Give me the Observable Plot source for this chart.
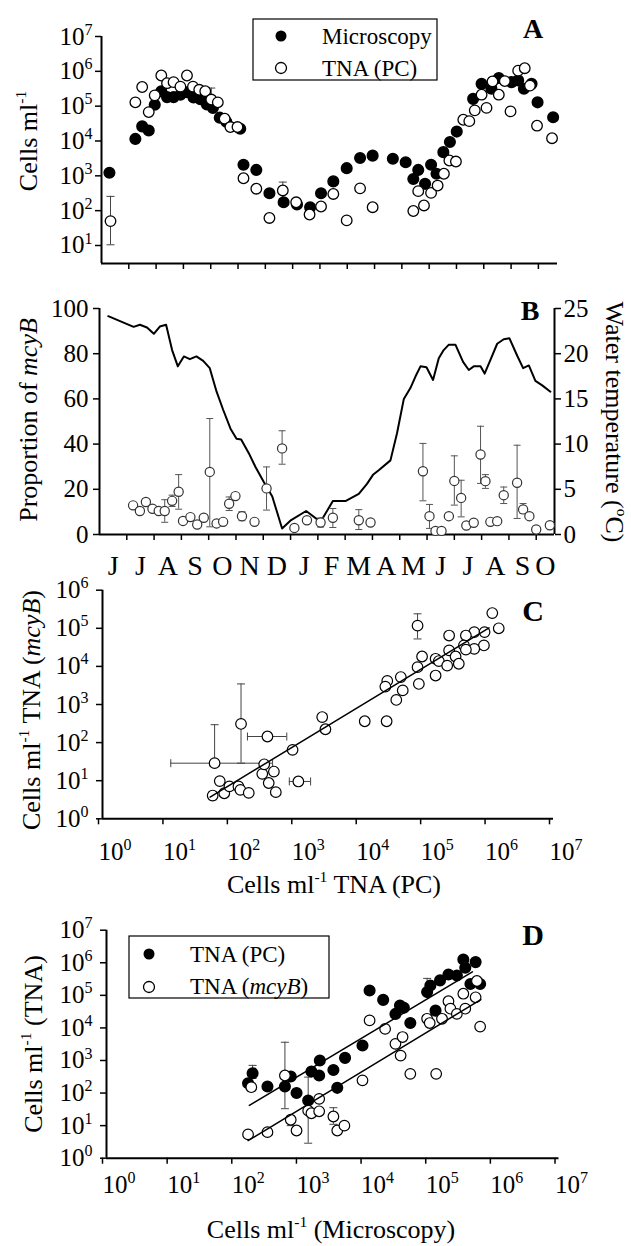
<!DOCTYPE html>
<html><head><meta charset="utf-8">
<script src="https://cdn.jsdelivr.net/npm/d3@7"></script>
<script src="https://cdn.jsdelivr.net/npm/@observablehq/plot@0.6"></script>
<style>
body{margin:0;background:#fff}
#wrap{position:relative;width:631px;height:1246px;background:#fff;overflow:hidden}
.p{position:absolute;left:0}
#wrap svg, #wrap svg text, #wrap svg tspan { font-family: "Liberation Serif", "DejaVu Serif", "Times New Roman", serif !important; }
</style>
</head><body><div id="wrap"></div>
<script>
// ---------- DATA ----------
const monthLabels = ["J","J","A","S","O","N","D","J","F","M","A","M","J","J","A","S","O"];
const monthTicks = [1,2,3,4,5,6,7,8,9,10,11,12,13,14,15,16];

// Panel A (x in months from 1 June, values as log10 cells/ml)
const aMicroMonth = [0.29,1.24,1.49,1.73,1.95,2.19,2.40,2.64,2.89,3.13,3.37,3.62,3.86,4.08,4.33,4.57,5.08,5.20,5.67,6.15,6.67,7.16,7.64,8.04,8.49,8.98,9.47,9.93,10.67,11.14,11.42,11.60,11.85,12.07,12.27,12.52,12.76,13.01,13.61,13.92,14.28,14.55,15.02,15.26,15.47,15.75,15.97,16.54];
const aMicroLog = [3.09,4.06,4.42,4.30,5.04,5.43,5.26,5.26,5.33,5.40,5.25,5.20,5.05,4.95,4.67,4.55,4.35,3.32,3.17,2.50,2.24,2.18,2.10,2.50,2.84,3.22,3.51,3.58,3.49,3.39,2.91,3.17,2.77,3.32,3.06,3.68,3.97,4.27,5.21,5.64,5.50,5.81,5.69,5.74,5.50,5.64,5.11,4.68];
const aPcMonth = [0.33,1.24,1.49,1.73,1.95,2.19,2.40,2.64,2.89,3.13,3.35,3.58,3.80,4.02,4.26,4.51,4.72,4.98,5.20,5.67,6.15,6.64,7.13,7.62,8.04,8.49,8.98,9.47,9.93,11.42,11.60,11.81,12.07,12.31,12.54,12.74,12.98,13.25,13.47,13.67,13.92,14.10,14.32,14.55,14.77,14.98,15.26,15.50,15.69,15.95,16.50];
const aPcLog = [1.70,5.11,5.55,4.83,5.31,5.88,5.66,5.69,5.56,5.88,5.56,5.47,5.43,5.19,5.11,4.64,4.40,4.40,2.93,2.63,1.79,2.58,2.24,1.89,2.12,2.48,1.72,2.64,2.10,1.99,2.56,2.15,2.51,2.72,3.06,3.44,3.41,4.61,4.57,4.88,5.33,4.95,5.71,5.33,5.72,4.85,6.02,6.09,5.59,4.44,4.08];
const aErrMonth = [0.33,4.02,6.64];
const aErrLoLog = [1.02,5.00,2.34];
const aErrHiLog = [2.41,5.52,2.82];

// Panel B
const bTempMonth = [0.32,1.25,1.48,1.74,1.99,2.21,2.44,2.66,2.87,3.09,3.31,3.55,3.80,4.04,4.29,4.53,4.80,5.02,5.19,5.47,5.71,6.02,6.33,6.69,7.02,7.57,8.10,8.55,8.83,9.01,9.50,9.80,10.02,10.23,10.66,10.90,11.15,11.39,11.58,11.76,11.98,12.22,12.43,12.61,12.80,13.04,13.32,13.53,13.71,13.96,14.11,14.35,14.57,14.81,15.02,15.30,15.52,15.73,15.97,16.22,16.52];
const bTemp = [24.15,22.97,23.2,22.9,22.2,23.0,23.2,20.4,18.6,19.7,19.4,19.7,19.2,18.4,15.8,13.8,11.7,10.6,10.5,9.0,7.5,5.8,4.2,0.66,1.6,2.6,1.4,3.7,3.7,3.7,4.5,5.6,6.6,7.1,8.2,11.2,15.0,16.2,17.5,18.6,18.5,17.1,19.5,20.4,21.0,21.0,19.1,18.2,18.6,18.6,17.8,19.5,21.1,21.6,21.7,19.8,18.4,18.7,17.0,16.5,15.8];
const bPropMonth = [1.23,1.48,1.70,1.94,2.17,2.39,2.66,2.90,3.06,3.33,3.58,3.82,4.04,4.29,4.53,4.75,4.98,5.22,5.68,6.12,6.69,7.14,7.60,8.10,8.55,9.50,9.93,11.85,12.09,12.31,12.53,12.80,13.00,13.25,13.44,13.71,13.96,14.14,14.32,14.57,14.81,15.30,15.52,15.75,16.00,16.50];
const bProp = [12.9,10.4,14.4,11.4,10.4,10.4,14.9,18.9,6.0,7.7,4.4,7.4,27.7,4.9,5.6,13.6,17.0,8.1,5.6,20.4,38.1,2.9,6.3,5.3,7.4,6.3,5.3,28.0,8.1,1.6,1.6,8.1,23.7,16.2,4.0,5.2,35.4,23.6,5.6,5.9,17.4,22.9,11.1,8.1,2.2,4.1];
const bErrMonth = [2.39,2.66,2.90,4.04,4.75,5.22,6.12,6.69,8.10,8.55,9.50,11.85,12.09,13.00,13.25,13.96,14.14,14.81,15.30,15.52];
const bErrLo = [5.4,12.4,11.2,3.4,10.6,6.1,10.8,31.1,3.3,3.1,2.2,14.9,2.7,13.0,7.8,22.6,20.4,13.7,7.1,9.3];
const bErrHi = [15.4,17.4,26.5,51.3,16.6,10.1,29.9,45.9,7.3,11.5,11.0,40.3,13.3,34.8,24.0,47.9,26.5,21.0,39.5,13.7];

// Panel C (log10 values)
const cPcLog = [1.71,1.74,1.82,1.89,1.97,2.11,2.14,2.27,2.15,2.48,2.51,2.58,2.66,2.69,2.56,2.95,3.04,3.41,3.46,4.07,4.41,4.42,4.39,4.56,4.63,4.66,4.91,4.89,5.17,4.89,6.05,6.15,5.38,5.77,5.93,5.64,5.92,5.61,5.77,5.64,5.38,5.48,5.53,4.96,5.17,5.22,5.35];
const cMcyLog = [0.61,1.46,0.99,0.67,0.85,0.85,0.76,0.68,2.49,1.18,1.43,0.94,1.24,0.70,2.16,1.81,0.98,2.67,2.35,2.56,2.56,3.62,3.47,3.12,3.72,3.37,3.54,3.98,3.76,5.07,5.40,5.00,4.81,4.90,4.90,4.81,4.55,4.55,4.46,4.44,4.42,4.26,4.07,4.26,4.20,4.14,4.02];
const cVErrX = [1.71,1.74,1.82,2.15,2.56,2.95,3.41,4.07,4.63,4.89,5.38];
const cVErrY = [0.61,1.46,0.99,2.49,2.16,1.81,2.67,2.56,3.72,5.07,4.81];
const cVErrLo = [0.50,1.46,0.90,1.46,2.08,1.72,2.60,2.48,3.65,4.72,4.74];
const cVErrHi = [0.72,2.47,1.08,3.54,2.24,1.89,2.74,2.64,3.79,5.38,4.88];
const cHErrY = [1.46,2.16,0.98,2.67];
const cHErrLo = [1.06,2.25,2.90,3.35];
const cHErrHi = [2.64,2.86,3.23,3.48];
const cLineX = [1.67,6.0];
const cLineY = [0.57,5.01];

// Panel D (log10 values)
const dPcX = [2.26,2.19,2.49,2.76,2.85,2.94,3.12,3.17,3.30,3.29,3.51,3.57,3.69,3.96,4.07,4.28,4.47,4.54,4.70,4.60,4.96,5.01,5.16,5.29,5.42,5.52,5.55,5.71,5.63,5.78,5.09];
const dPcY = [2.61,2.30,2.20,2.20,2.51,2.00,1.77,2.66,3.00,2.54,2.71,2.16,3.08,3.46,5.15,4.86,4.43,4.69,4.15,4.62,5.10,5.30,5.46,5.64,5.61,6.10,5.85,6.02,5.35,5.35,4.53];
const dMcyX = [2.24,2.19,2.49,2.76,2.85,2.94,3.12,3.17,3.29,3.29,3.51,3.57,3.68,3.96,4.07,4.31,4.47,4.58,4.55,4.70,5.10,4.96,5.00,5.19,5.29,5.32,5.42,5.52,5.55,5.71,5.73,5.78];
const dMcyY = [2.18,0.73,0.80,2.54,1.18,0.85,1.46,1.38,1.44,1.82,1.28,0.85,1.00,2.39,4.23,3.97,3.51,3.72,3.15,2.59,2.59,4.28,4.15,4.28,4.82,4.59,4.43,5.05,4.59,4.94,5.44,4.04];
const dErrX = [2.26,4.96,2.24,2.49,2.76,2.85,3.12,3.51,4.70,5.10];
const dErrLo = [2.45,5.10,2.05,0.72,1.52,1.00,0.46,1.04,2.52,2.52];
const dErrHi = [2.85,5.52,2.30,0.88,3.56,1.18,2.49,1.55,2.68,2.68];
const dLinePcX = [2.21,5.66];
const dLinePcY = [1.62,5.72];
const dLineMcyX = [2.19,5.79];
const dLineMcyY = [0.54,4.87];

// ---------- HELPERS ----------
const W = 631;
const FONT = '"Liberation Serif", "DejaVu Serif", serif';
const p10 = v => Math.pow(10, v);
const hbar = {draw(ctx, size){ const r = Math.sqrt(size/Math.PI); ctx.moveTo(-r,0); ctx.lineTo(r,0); }};
const vbar = {draw(ctx, size){ const r = Math.sqrt(size/Math.PI); ctx.moveTo(0,-r); ctx.lineTo(0,r); }};
const decFmt = d => "10^" + Math.round(Math.log10(d));
const baseStyle = {fontFamily: FONT, fontSize: "25px", background: "transparent", color: "black", overflow: "visible"};

function supTicks(svg){
  d3.select(svg).selectAll("text").each(function(){
    const m = /^10\^(\d+)$/.exec(this.textContent);
    if (m){
      const s = d3.select(this); s.text("10");
      s.append("tspan").attr("dy","-0.62em").attr("font-size","0.64em").text(m[1]);
    }
  });
}
function addLabel(svg, o){
  const size = o.size || 26;
  const t = d3.select(svg).append("text")
    .attr("transform", `translate(${o.x},${o.y}) rotate(${o.rotate||0})`)
    .attr("text-anchor", o.anchor || "middle")
    .attr("font-size", size)
    .attr("font-weight", o.weight || "normal").attr("fill", "black")
    .style("white-space", "pre");
  let shift = 0;
  for (const p of o.parts){
    const s = t.append("tspan").text(p.t);
    if (p.sup){ s.attr("font-size", size*0.6).attr("dy", -size*0.42); shift = size*0.42; }
    else if (shift){ s.attr("dy", shift); shift = 0; }
    if (p.it) s.attr("font-style", "italic");
  }
}
function place(svg, top){
  const d = document.createElement("div"); d.className = "p"; d.style.top = top + "px";
  d.appendChild(svg); document.getElementById("wrap").appendChild(d);
}
const cellsMl = [{t:"Cells ml"},{t:"-1",sup:true}];

// ---------- PANEL A ----------
{
  const yMin = p10(0.483);
  const micro = aMicroMonth.map((m,i)=>({m, v:p10(aMicroLog[i])}));
  const pc = aPcMonth.map((m,i)=>({m, v:p10(aPcLog[i])}));
  const err = aErrMonth.map((m,i)=>({m, lo:p10(aErrLoLog[i]), hi:p10(aErrHiLog[i])}));
  const svg = Plot.plot({
    width: W, height: 300, marginTop: 36, marginBottom: 37, marginLeft: 101, marginRight: 74,
    style: baseStyle,
    x: {domain: [0, 16.7]},
    y: {type: "log", domain: [yMin, 1e7]},
    marks: [
      Plot.axisX({ticks: monthTicks, tickSize: 6, tickFormat: () => "", label: null, strokeWidth: 1.5}),
      Plot.axisY({ticks: [1e1,1e2,1e3,1e4,1e5,1e6,1e7], tickSize: 6, tickPadding: 3, tickFormat: decFmt, label: null, strokeWidth: 1.5}),
      Plot.ruleX([0], {strokeWidth: 2}),
      Plot.ruleY([yMin], {strokeWidth: 2}),
      Plot.ruleX(err, {x: "m", y1: "lo", y2: "hi", stroke: "#444", strokeWidth: 1}),
      Plot.dot(err, {x: "m", y: "lo", symbol: hbar, r: 4, stroke: "#444", strokeWidth: 1}),
      Plot.dot(err, {x: "m", y: "hi", symbol: hbar, r: 4, stroke: "#444", strokeWidth: 1}),
      Plot.dot(micro, {x: "m", y: "v", r: 5.3, fill: "black", stroke: "black"}),
      Plot.dot(pc, {x: "m", y: "v", r: 5.3, fill: "white", stroke: "black", strokeWidth: 1.3})
    ]
  });
  supTicks(svg);
  addLabel(svg, {x: 37, y: 141, rotate: -90, parts: cellsMl});
  const g = d3.select(svg).append("g");
  g.append("rect").attr("x",253).attr("y",19).attr("width",184).attr("height",61).attr("fill","white").attr("stroke","black").attr("stroke-width",1.2);
  g.append("circle").attr("cx",281).attr("cy",36).attr("r",5.5).attr("fill","black");
  g.append("circle").attr("cx",281).attr("cy",68).attr("r",5.5).attr("fill","white").attr("stroke","black").attr("stroke-width",1.3);
  addLabel(svg, {x: 322, y: 44, anchor: "start", size: 23, parts: [{t:"Microscopy"}]});
  addLabel(svg, {x: 322, y: 76, anchor: "start", size: 23, parts: [{t:"TNA (PC)"}]});
  addLabel(svg, {x: 533, y: 38, size: 28, weight: "bold", parts: [{t:"A"}]});
  place(svg, 0);
}

// ---------- PANEL B ----------
{
  const xMax = 16.67;
  const temp = bTempMonth.map((m,i)=>({m, y: bTemp[i]*4}));
  const prop = bPropMonth.map((m,i)=>({m, p: bProp[i]}));
  const err = bErrMonth.map((m,i)=>({m, lo: bErrLo[i], hi: bErrHi[i]}));
  const labelPos = monthLabels.map((_,i)=> i < 16 ? i + 0.5 : (16 + xMax)/2);
  const svg = Plot.plot({
    width: W, height: 300, marginTop: 18, marginBottom: 56, marginLeft: 99, marginRight: 77,
    style: baseStyle,
    x: {domain: [0, xMax]},
    y: {domain: [0, 100]},
    marks: [
      Plot.axisX({ticks: monthTicks, tickSize: 6, tickFormat: () => "", label: null, strokeWidth: 1.5}),
      Plot.axisX({ticks: labelPos, tickSize: 0, tickPadding: 21, fontSize: 28, tickFormat: (d,i) => monthLabels[i], label: null}),
      Plot.axisY({ticks: [0,20,40,60,80,100], tickSize: 6, tickPadding: 5, label: null, strokeWidth: 1.5}),
      Plot.axisY({anchor: "right", ticks: [0,20,40,60,80,100], tickFormat: d => String(d/4), tickSize: 6, tickPadding: 3, label: null, strokeWidth: 1.5}),
      Plot.ruleX([0, xMax], {strokeWidth: 2}),
      Plot.ruleY([0], {strokeWidth: 2}),
      Plot.line(temp, {x: "m", y: "y", stroke: "black", strokeWidth: 2}),
      Plot.ruleX(err, {x: "m", y1: "lo", y2: "hi", stroke: "#555", strokeWidth: 1}),
      Plot.dot(err, {x: "m", y: "lo", symbol: hbar, r: 3.5, stroke: "#555", strokeWidth: 1}),
      Plot.dot(err, {x: "m", y: "hi", symbol: hbar, r: 3.5, stroke: "#555", strokeWidth: 1}),
      Plot.dot(prop, {x: "m", y: "p", r: 4.6, fill: "white", stroke: "#333", strokeWidth: 1.2})
    ]
  });
  addLabel(svg, {x: 37, y: 130, rotate: -90, parts: [{t:"Proportion of "},{t:"mcyB", it:true}]});
  addLabel(svg, {x: 606, y: 132, rotate: 90, parts: [{t:"Water temperature ("},{t:"o",sup:true},{t:"C)"}]});
  addLabel(svg, {x: 530, y: 30, size: 28, weight: "bold", parts: [{t:"B"}]});
  place(svg, 290);
}

// ---------- PANEL C ----------
{
  const pts = cPcLog.map((x,i)=>({x: p10(x), y: p10(cMcyLog[i])}));
  const ve = cVErrX.map((x,i)=>({x: p10(x), lo: p10(cVErrLo[i]), hi: p10(cVErrHi[i])}));
  const he = cHErrY.map((y,i)=>({y: p10(y), lo: p10(cHErrLo[i]), hi: p10(cHErrHi[i])}));
  const line = cLineX.map((x,i)=>({x: p10(x), y: p10(cLineY[i])}));
  const svg = Plot.plot({
    width: W, height: 355, marginTop: 14.7, marginBottom: 111.7, marginLeft: 102, marginRight: 78,
    style: baseStyle,
    x: {type: "log", domain: [1, 1e7]},
    y: {type: "log", domain: [1, 1e6]},
    marks: [
      Plot.axisX({ticks: [1,1e1,1e2,1e3,1e4,1e5,1e6,1e7], tickSize: 6, tickPadding: 17, tickFormat: decFmt, label: null, strokeWidth: 1.5, textAnchor: "start", dx: -4}),
      Plot.axisY({ticks: [1,1e1,1e2,1e3,1e4,1e5,1e6], tickSize: 6, tickPadding: 8, tickFormat: decFmt, label: null, strokeWidth: 1.5}),
      Plot.ruleX([1], {strokeWidth: 2}),
      Plot.ruleY([1], {strokeWidth: 2}),
      Plot.ruleX(ve, {x: "x", y1: "lo", y2: "hi", stroke: "#444", strokeWidth: 1}),
      Plot.dot(ve, {x: "x", y: "lo", symbol: hbar, r: 4, stroke: "#444", strokeWidth: 1}),
      Plot.dot(ve, {x: "x", y: "hi", symbol: hbar, r: 4, stroke: "#444", strokeWidth: 1}),
      Plot.ruleY(he, {y: "y", x1: "lo", x2: "hi", stroke: "#444", strokeWidth: 1}),
      Plot.dot(he, {x: "lo", y: "y", symbol: vbar, r: 4, stroke: "#444", strokeWidth: 1}),
      Plot.dot(he, {x: "hi", y: "y", symbol: vbar, r: 4, stroke: "#444", strokeWidth: 1}),
      Plot.dot(pts, {x: "x", y: "y", r: 5.3, fill: "white", stroke: "black", strokeWidth: 1.2}),
      Plot.line(line, {x: "x", y: "y", stroke: "black", strokeWidth: 1.5})
    ]
  });
  supTicks(svg);
  addLabel(svg, {x: 40, y: 135, rotate: -90, parts: [...cellsMl, {t:" TNA ("},{t:"mcyB", it:true},{t:")"}]});
  addLabel(svg, {x: 334, y: 318, parts: [...cellsMl, {t:" TNA (PC)"}]});
  addLabel(svg, {x: 533, y: 46, size: 30, weight: "bold", parts: [{t:"C"}]});
  place(svg, 575);
}

// ---------- PANEL D ----------
{
  const pc = dPcX.map((x,i)=>({x: p10(x), y: p10(dPcY[i])}));
  const mcy = dMcyX.map((x,i)=>({x: p10(x), y: p10(dMcyY[i])}));
  const err = dErrX.map((x,i)=>({x: p10(x), lo: p10(dErrLo[i]), hi: p10(dErrHi[i])}));
  const lPc = dLinePcX.map((x,i)=>({x: p10(x), y: p10(dLinePcY[i])}));
  const lMcy = dLineMcyX.map((x,i)=>({x: p10(x), y: p10(dLineMcyY[i])}));
  const svg = Plot.plot({
    width: W, height: 336, marginTop: 19.7, marginBottom: 88.3, marginLeft: 106, marginRight: 72.5,
    style: baseStyle,
    x: {type: "log", domain: [1, 1e7]},
    y: {type: "log", domain: [1, 1e7]},
    marks: [
      Plot.axisX({ticks: [1,1e1,1e2,1e3,1e4,1e5,1e6,1e7], tickSize: 6, tickPadding: 11, tickFormat: decFmt, label: null, strokeWidth: 1.5, textAnchor: "start", dx: -4}),
      Plot.axisY({ticks: [1,1e1,1e2,1e3,1e4,1e5,1e6,1e7], tickSize: 6, tickPadding: 8, tickFormat: decFmt, label: null, strokeWidth: 1.5}),
      Plot.ruleX([1], {strokeWidth: 2}),
      Plot.ruleY([1], {strokeWidth: 2}),
      Plot.ruleX(err, {x: "x", y1: "lo", y2: "hi", stroke: "#444", strokeWidth: 1}),
      Plot.dot(err, {x: "x", y: "lo", symbol: hbar, r: 4, stroke: "#444", strokeWidth: 1}),
      Plot.dot(err, {x: "x", y: "hi", symbol: hbar, r: 4, stroke: "#444", strokeWidth: 1}),
      Plot.dot(pc, {x: "x", y: "y", r: 5.3, fill: "black", stroke: "black"}),
      Plot.dot(mcy, {x: "x", y: "y", r: 5.3, fill: "white", stroke: "black", strokeWidth: 1.2}),
      Plot.line(lPc, {x: "x", y: "y", stroke: "black", strokeWidth: 1.5}),
      Plot.line(lMcy, {x: "x", y: "y", stroke: "black", strokeWidth: 1.5})
    ]
  });
  supTicks(svg);
  addLabel(svg, {x: 42, y: 134, rotate: -90, parts: [...cellsMl, {t:" (TNA)"}]});
  addLabel(svg, {x: 331, y: 328, parts: [...cellsMl, {t:" (Microscopy)"}]});
  const g = d3.select(svg).append("g");
  g.append("rect").attr("x",129).attr("y",26).attr("width",200).attr("height",62).attr("fill","white").attr("stroke","black").attr("stroke-width",1.2);
  g.append("circle").attr("cx",149).attr("cy",44).attr("r",5.5).attr("fill","black");
  g.append("circle").attr("cx",149).attr("cy",77).attr("r",5.5).attr("fill","white").attr("stroke","black").attr("stroke-width",1.3);
  addLabel(svg, {x: 190, y: 52, anchor: "start", size: 23, parts: [{t:"TNA (PC)"}]});
  addLabel(svg, {x: 190, y: 84, anchor: "start", size: 23, parts: [{t:"TNA ("},{t:"mcyB", it:true},{t:")"}]});
  addLabel(svg, {x: 533, y: 35, size: 30, weight: "bold", parts: [{t:"D"}]});
  place(svg, 910);
}
</script>
</body></html>
